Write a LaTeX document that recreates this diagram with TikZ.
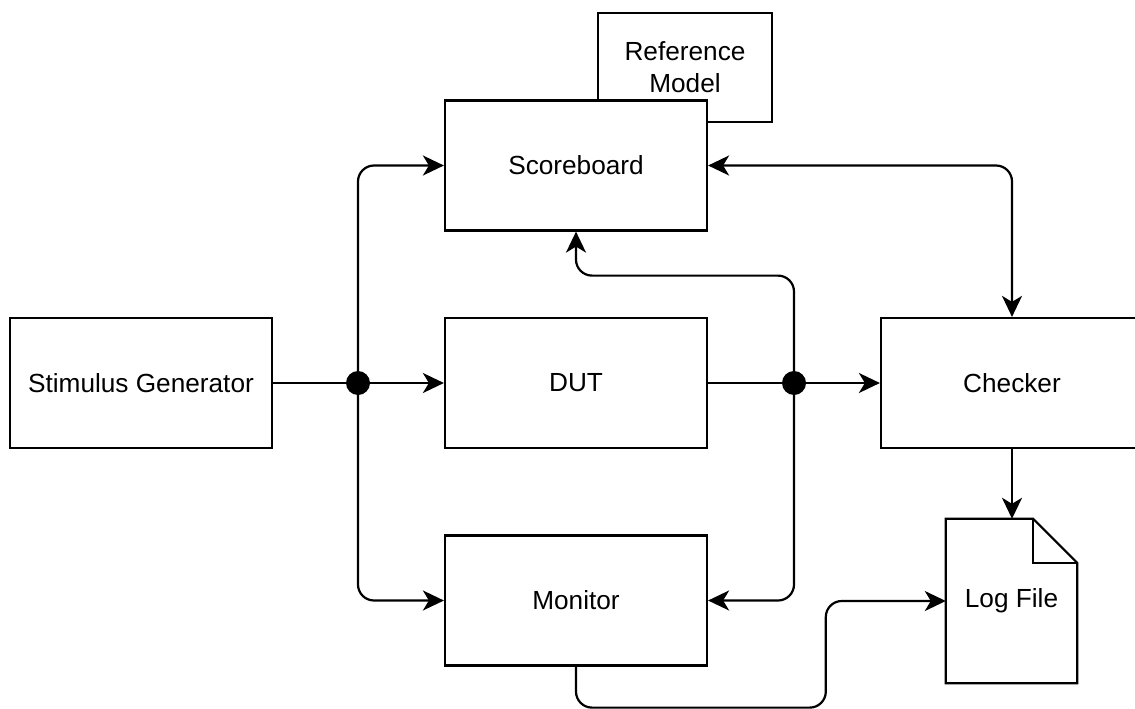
\documentclass[tikz,border=0pt]{standalone}
\usepackage{fontspec}
\setmainfont{Liberation Sans}
\usetikzlibrary{arrows.meta}

\tikzset{
  blk/.style={draw, fill=white, line width=2.2pt, minimum width=262pt, minimum height=130pt,
              inner sep=0pt, align=center, font=\fontsize{26.2}{32}\selectfont},
  conn/.style={line width=2.2pt, rounded corners=16pt},
  arr/.style={conn, -{Stealth[length=21pt, width=20pt, inset=6pt]}},
  biarr/.style={conn, {Stealth[length=21pt, width=20pt, inset=6pt]}-{Stealth[length=21pt, width=20pt, inset=6pt]}},
  junction/.style={fill=black}
}

\begin{document}
\begin{tikzpicture}[x=1pt, y=-1pt]
\useasboundingbox (0,0) rectangle (1135,709);
\begin{scope}
\clip (0,0) rectangle (1135,709);

% blocks
\node[blk, minimum width=174pt, minimum height=109pt] (refm) at (685,67.5) {Reference\\Model};
\node[blk] (sb)    at (576,165.5) {Scoreboard};
\node[blk] (stim)  at (141,383)   {Stimulus Generator};
\node[blk] (dut)   at (576,383)   {DUT};
\node[blk] (chk)   at (1012,383)  {Checker};
\node[blk] (mon)   at (576,600.5) {Monitor};

% log file document with folded corner
\node[minimum width=131pt, minimum height=164pt, inner sep=0pt,
      font=\fontsize{26.2}{32}\selectfont] (log) at (1011.5,601) {Log File};
\draw[line width=2.2pt, line join=miter]
  (log.north west) -- ([xshift=-44pt]log.north east) -- ([yshift=-44pt]log.north east)
  -- (log.south east) -- (log.south west) -- cycle;
\draw[line width=2.2pt, line join=miter]
  ([xshift=-44pt]log.north east) -- ([xshift=-44pt,yshift=-44pt]log.north east)
  -- ([yshift=-44pt]log.north east);

% junction points
\coordinate (j1) at (358,383);
\coordinate (j2) at (794,383);

% connectors
\draw[arr] (stim) -- (dut);
\draw[arr] (j1) |- (sb.west);
\draw[arr] (j1) |- (mon.west);
\draw[arr] (dut) -- (chk);
\draw[arr] (j2) |- ([yshift=-44pt]sb.south) -- (sb.south);
\draw[arr] (j2) |- (mon.east);
\draw[biarr] (sb.east) -| (chk.north);
\draw[arr] (chk.south) -- (chk.south |- log.north);
\draw[arr] (mon.south) -- ([yshift=-41pt]mon.south) -| ([xshift=-120pt]log.west) -- (log.west);

\fill[junction] (j1) circle (12pt);
\fill[junction] (j2) circle (12pt);
\end{scope}
\end{tikzpicture}
\end{document}
